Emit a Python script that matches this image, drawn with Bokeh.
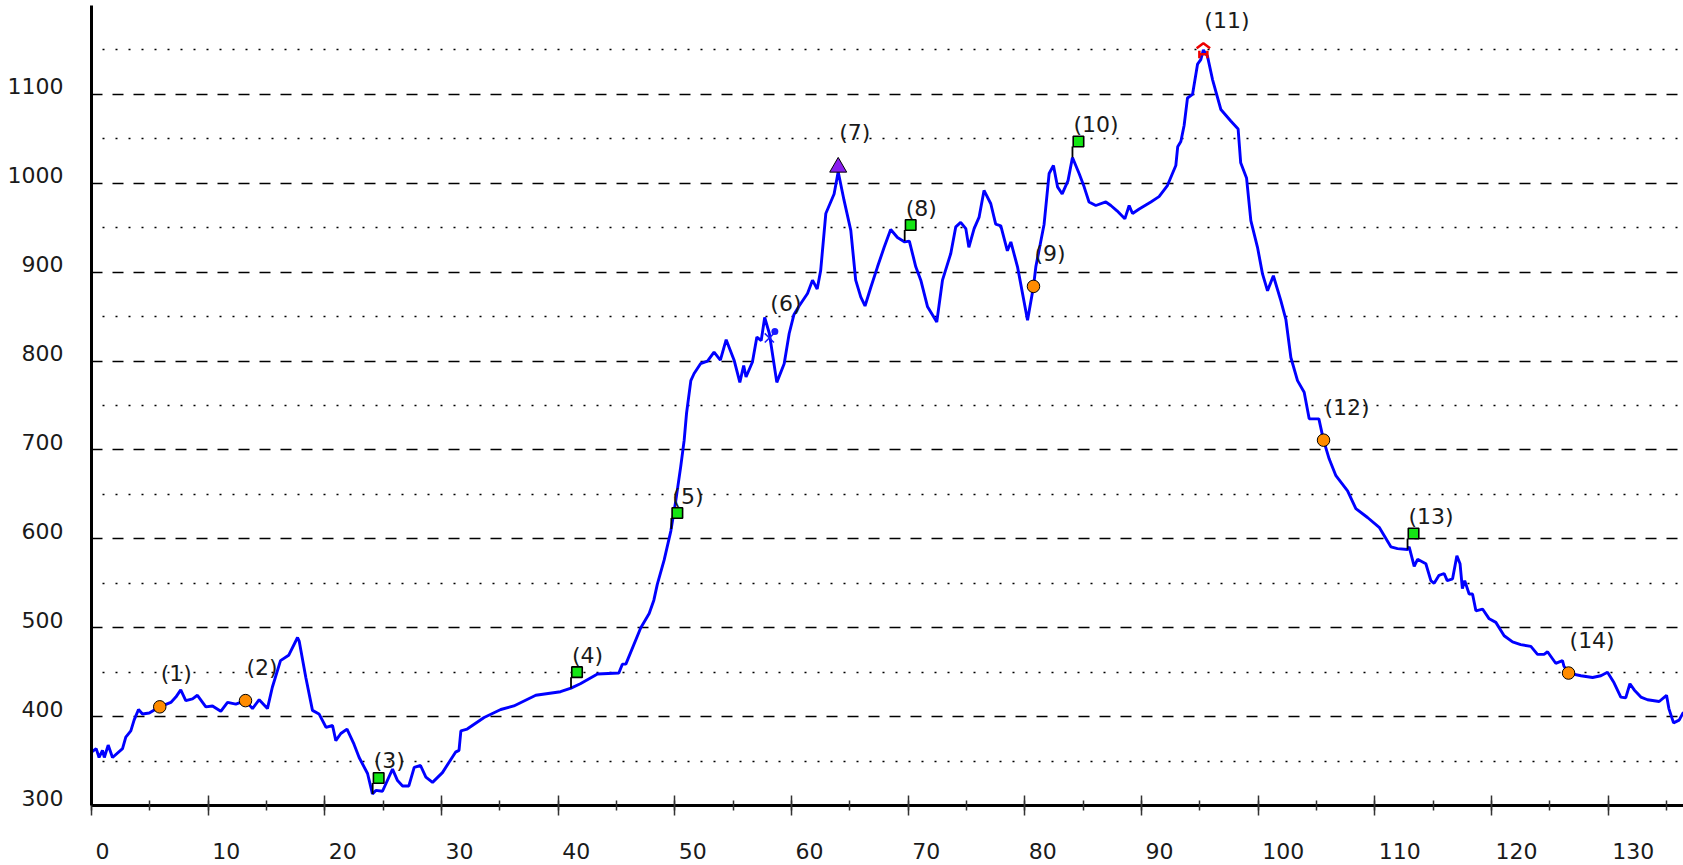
from bokeh.plotting import figure
from bokeh.models import Range1d, LinearAxis, SingleIntervalTicker, FixedTicker, Grid
from bokeh.core.properties import value
from bokeh.embed import file_html
from bokeh.resources import INLINE

# ---------------- data ----------------
km = [0.0, 0.4, 0.65, 0.94, 1.1, 1.43, 1.8, 2.66, 2.94, 3.37, 3.65, 4.03, 4.37, 4.95, 5.85,
      6.8, 7.23, 7.65, 8.08, 8.66, 9.08, 9.8, 10.37, 11.08, 11.66, 12.37, 13.2, 13.8, 14.37,
      15.08, 15.5, 16.2, 16.9, 17.66, 17.8, 18.37, 18.94, 19.5, 20.1, 20.66, 20.94, 21.37,
      21.9, 22.5, 22.94, 23.66, 24.08, 24.37, 24.94, 25.8, 26.23, 26.66, 27.2, 27.66, 28.2,
      28.66, 29.23, 30.08, 31.2, 31.5, 31.66, 32.2, 33.65, 35.08, 36.2, 38.08, 40.2, 41.1,
      41.9, 43.37, 45.2, 45.5, 45.8, 47.08, 47.8, 48.2, 48.5, 49.08, 49.66, 50.08, 50.5, 50.8,
      51.0, 51.37, 51.65, 52.2, 52.8, 53.36, 53.9, 54.4, 55.08, 55.57, 55.9, 56.1, 56.65,
      57.03, 57.4, 57.7, 58.1, 58.74, 59.37, 59.8, 60.2, 60.65, 61.37, 61.8, 62.2, 62.5,
      62.94, 63.65, 64.0, 64.5, 65.08, 65.5, 65.94, 66.3, 66.8, 67.37, 67.94, 68.5, 69.08,
      69.7, 70.1, 70.65, 71.08, 71.66, 72.45, 72.94, 73.65, 74.08, 74.5, 74.94, 75.2, 75.65,
      76.08, 76.5, 77.08, 77.5, 77.94, 78.5, 78.8, 79.37, 80.23, 80.74, 80.94, 81.65, 82.08,
      82.45, 82.8, 83.2, 83.7, 84.08, 84.65, 85.08, 85.5, 86.08, 86.94, 87.37, 87.9, 88.57,
      88.94, 89.23, 89.8, 90.8, 91.5, 92.2, 92.65, 92.94, 93.1, 93.37, 93.65, 93.94, 94.37,
      94.8, 95.08, 95.3, 95.65, 96.08, 96.8, 97.65, 98.28, 98.5, 99.0, 99.37, 99.94, 100.37,
      100.8, 101.3, 101.94, 102.37, 102.8, 103.37, 103.94, 104.37, 105.2, 105.6, 106.08,
      106.66, 107.66, 108.37, 109.37, 110.37, 111.37, 111.94, 112.8, 112.94, 113.37, 113.66,
      114.37, 114.8, 115.08, 115.5, 115.94, 116.2, 116.66, 117.03, 117.3, 117.5, 117.7,
      118.08, 118.37, 118.66, 119.23, 119.8, 120.37, 121.08, 121.8, 122.5, 123.37, 123.94,
      124.5, 124.8, 125.5, 126.08, 126.2, 126.6, 127.66, 128.66, 129.37, 129.94, 130.5,
      131.08, 131.5, 131.86, 132.23, 132.8, 133.37, 134.37, 135.0, 135.2, 135.6, 136.08, 136.45]
ele = [360, 364, 354, 362, 354, 368, 354, 364, 377, 384, 396, 408, 403, 404, 411,
       416, 422, 430, 418, 420, 424, 411, 412, 406, 416, 414, 418, 409, 419,
       409, 433, 463, 469, 489, 485, 444, 407, 403, 388, 390, 373, 381,
       386, 369, 354, 336, 313, 317, 316, 341, 328, 322, 322, 343, 345,
       332, 326, 337, 360, 362, 384, 386, 399, 408, 412, 424, 428, 432,
       437, 448, 449, 459, 459, 500, 516, 531, 549, 576, 609, 643, 681, 711,
       741, 778, 786, 797, 800, 810, 801, 824, 801, 776, 795, 782, 799,
       827, 823, 849, 831, 776, 797, 831, 852, 862, 876, 891, 881, 902,
       966, 988, 1013, 981, 947, 891, 872, 862, 883, 906, 928, 948, 939,
       934, 935, 906, 891, 861, 844, 891, 921, 951, 956, 949, 928, 949,
       962, 992, 977, 954, 952, 924, 934, 906, 846, 884, 906, 954, 1011,
       1020, 996, 988, 1003, 1029, 1011, 996, 979, 975, 979, 975, 969, 960,
       975, 966, 971, 979, 985, 997, 1011, 1020, 1041, 1047, 1065, 1096, 1100,
       1134, 1139, 1150, 1143, 1117, 1083, 1070, 1061, 1023, 1006, 958, 928, 898,
       879, 896, 868, 847, 804, 778, 765, 735, 735, 711, 690,
       671, 654, 634, 624, 613, 591, 589, 588, 591, 569, 577,
       572, 553, 550, 559, 561, 553, 555, 581, 572, 544, 553,
       538, 538, 519, 521, 510, 506, 491, 484, 481, 479, 470,
       470, 473, 460, 463, 457, 449, 446, 444, 446, 450, 438,
       422, 421, 437, 430, 422, 419, 417, 424, 409, 393, 396, 405]

poi_km = [5.85, 13.2, 24.1, 41.1, 49.7, 58.1, 64.0, 69.7, 80.74, 84.08, 95.3, 105.6, 112.8, 126.6]
poi_ele = [411, 418, 313, 432, 611, 826, 1013, 935, 884, 1029, 1149, 711, 588, 449]
poi_kind = ["circle", "circle", "flag", "flag", "flag", "hiker", "peak", "flag", "circle",
            "flag", "hut", "circle", "flag", "circle"]
poi_label = ["(1)", "(2)", "(3)", "(4)", "(5)", "(6)", "(7)", "(8)", "(9)", "(10)",
             "(11)", "(12)", "(13)", "(14)"]

x_ticks = list(range(0, 131, 10))
y_ticks = list(range(300, 1101, 100))
y_minor = list(range(350, 1151, 100))

# ---------------- geometry / style ----------------
FONT = "DejaVu Sans"
FONT_PX = 22
FIG_W, FIG_H = 1683, 865
BORDER_L, BORDER_T, BORDER_B = 91, 5, 60
FRAME_W = FIG_W - BORDER_L
FRAME_H = FIG_H - BORDER_T - BORDER_B
PX_PER_KM = 11.667
Y_START, Y_END = 300, 1200
PX_PER_M = FRAME_H / (Y_END - Y_START)
X_END = FRAME_W / PX_PER_KM


def right(px):
    return px / PX_PER_KM


def up(px):
    return px / PX_PER_M


p = figure(width=FIG_W, height=FIG_H,
           x_range=Range1d(0, X_END), y_range=Range1d(Y_START, Y_END),
           output_backend="svg", toolbar_location=None,
           min_border_left=BORDER_L, min_border_right=0, min_border_top=BORDER_T,
           min_border_bottom=BORDER_B, outline_line_color=None,
           background_fill_color="white", border_fill_color="white")

# x axis: line + tick marks
xa = p.xaxis[0]
xa.ticker = SingleIntervalTicker(interval=10, num_minor_ticks=2)
xa.axis_line_color = "black"
xa.axis_line_width = 3
xa.major_tick_in = 10
xa.major_tick_out = 10
xa.minor_tick_in = 5
xa.minor_tick_out = 5
xa.major_tick_line_color = "#333333"
xa.minor_tick_line_color = "#333333"
xa.major_tick_line_width = 1.5
xa.minor_tick_line_width = 1.5
xa.major_label_standoff = 0
xa.major_label_text_font_size = "0px"
xa.major_label_overrides = {t: "" for t in x_ticks}

# x axis labels, set just to the right of their tick
x_label_pos = [t + right(4 + 0.318 * FONT_PX * len(str(t))) for t in x_ticks]
xl = LinearAxis(ticker=FixedTicker(ticks=x_label_pos),
                major_label_overrides={pos: str(t) for pos, t in zip(x_label_pos, x_ticks)},
                axis_line_color=None, major_tick_line_color=None, minor_tick_line_color=None,
                major_tick_in=0, major_tick_out=0, minor_tick_in=0, minor_tick_out=0,
                major_label_standoff=27, major_label_text_line_height=0.8,
                major_label_text_font=FONT, major_label_text_font_size=f"{FONT_PX}px",
                major_label_text_color="#1a1a1a")
p.add_layout(xl, "below")

# y axis: line, labels slightly above their grid line
y_label_pos = [v + up(8) for v in y_ticks]
ya = p.yaxis[0]
ya.ticker = FixedTicker(ticks=y_label_pos)
ya.major_label_overrides = {pos: str(v) for pos, v in zip(y_label_pos, y_ticks)}
ya.axis_line_color = "black"
ya.axis_line_width = 3
ya.major_tick_in = 0
ya.major_tick_out = 0
ya.minor_tick_in = 0
ya.minor_tick_out = 0
ya.major_tick_line_color = None
ya.minor_tick_line_color = None
ya.major_label_standoff = 28
ya.major_label_text_font = FONT
ya.major_label_text_font_size = f"{FONT_PX}px"
ya.major_label_text_color = "#1a1a1a"

# grids: dashed at hundreds, dotted at the fifties
p.xgrid.visible = False
yg = p.ygrid[0]
yg.ticker = FixedTicker(ticks=y_ticks)
yg.grid_line_color = "black"
yg.grid_line_width = 1.3
yg.grid_line_dash = "11 10"
yg.minor_grid_line_color = None
yg2 = Grid(dimension=1, ticker=FixedTicker(ticks=y_minor),
           grid_line_color="black", grid_line_width=1.6,
           grid_line_dash="2 11", grid_line_dash_offset=2)
p.add_layout(yg2)

# elevation profile
p.line(km, ele, line_color="#0000ff", line_width=2.9)

# points of interest
def pick(kind):
    idx = [i for i, k in enumerate(poi_kind) if k == kind]
    return [poi_km[i] for i in idx], [poi_ele[i] for i in idx]

cx, cy = pick("circle")
p.scatter(cx, cy, marker="circle", size=12.5, fill_color="#ff8c00",
          line_color="black", line_width=1)

fx, fy = pick("flag")
p.segment(x0=fx, y0=fy, x1=fx, y1=[y + up(11) for y in fy], line_color="black", line_width=1.8)
p.scatter([x + right(6) for x in fx], [y + up(16) for y in fy], marker="square", size=10.5,
          fill_color="#14e614", line_color="black", line_width=1.6)

tx, ty = pick("peak")
p.scatter(tx, [y + up(4.5) for y in ty], marker="triangle", size=17,
          fill_color="#8a1ef0", line_color="black", line_width=1)

hx, hy = pick("hiker")
p.scatter(hx, hy, marker="x", size=13, line_color="#1a1aff", line_width=1.5)
p.scatter([x + right(5.5) for x in hx], [y + up(6.5) for y in hy], marker="circle", size=7,
          fill_color="#1a1aff", line_color=None)

ux, uy = pick("hut")
hut_xs, hut_ys = [], []
for x, y in zip(ux, uy):
    hut_xs += [[x - right(6.7), x, x + right(6.7)],
               [x - right(4), x - right(4)], [x + right(4), x + right(4)],
               [x - right(4), x + right(4)]]
    hut_ys += [[y + up(2.7), y + up(7.7), y + up(2.7)],
               [y, y - up(7.3)], [y, y - up(7.3)],
               [y - up(3.3), y - up(3.3)]]
p.multi_line(hut_xs, hut_ys, line_color="#ee0000", line_width=2.5)

label_dy = {"circle": -33, "flag": -33, "peak": -39, "hut": -30, "hiker": -34}
p.text(x=poi_km, y=poi_ele, text=poi_label,
       x_offset=1, y_offset=[label_dy[k] for k in poi_kind],
       text_align="left", text_baseline="middle",
       text_font=value(FONT), text_font_size=f"{FONT_PX}px", text_color="#1a1a1a")

open("out.html", "w").write(file_html(p, INLINE))
